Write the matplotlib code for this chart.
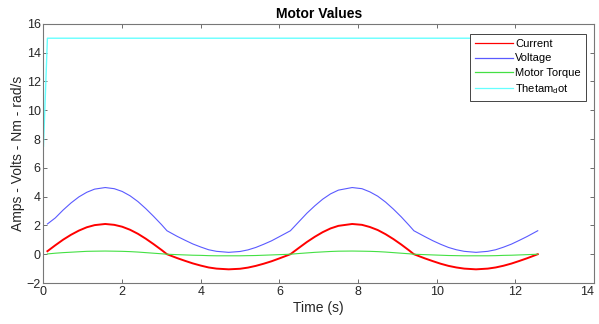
import matplotlib
matplotlib.use('Agg')
import matplotlib.pyplot as plt

plt.rcParams['font.family'] = ['Liberation Sans', 'DejaVu Sans']

# 时间 (s)
time = [0.1, 0.3, 0.5, 0.7, 0.9, 1.1, 1.3, 1.57, 1.8, 2.0, 2.2, 2.4, 2.6, 2.8, 3.0, 3.14,
        3.4, 3.6, 3.8, 4.0, 4.2, 4.4, 4.71, 5.0, 5.2, 5.4, 5.6, 5.8, 6.0, 6.28,
        6.5, 6.7, 6.9, 7.1, 7.3, 7.5, 7.85, 8.1, 8.3, 8.5, 8.7, 8.9, 9.1, 9.3, 9.42,
        9.7, 9.9, 10.1, 10.3, 10.5, 10.7, 11.0, 11.3, 11.5, 11.7, 11.9, 12.1, 12.3, 12.57]

current = [0.21, 0.62, 1.01, 1.35, 1.64, 1.87, 2.02, 2.10, 2.04, 1.91, 1.70, 1.42, 1.08, 0.70, 0.30, 0.0,
           -0.27, -0.46, -0.64, -0.79, -0.92, -1.00, -1.05, -1.01, -0.93, -0.81, -0.66, -0.49, -0.29, 0.0,
           0.45, 0.85, 1.21, 1.53, 1.79, 1.97, 2.10, 2.04, 1.89, 1.68, 1.39, 1.05, 0.67, 0.26, 0.0,
           -0.29, -0.48, -0.66, -0.81, -0.92, -1.00, -1.05, -1.00, -0.92, -0.80, -0.65, -0.47, -0.28, 0.0]

voltage = [2.10, 2.52, 3.07, 3.56, 3.98, 4.30, 4.52, 4.63, 4.55, 4.36, 4.06, 3.66, 3.17, 2.63, 2.06, 1.63,
           1.24, 0.97, 0.71, 0.50, 0.31, 0.20, 0.13, 0.19, 0.30, 0.47, 0.69, 0.93, 1.22, 1.63,
           2.27, 2.85, 3.36, 3.82, 4.19, 4.45, 4.63, 4.55, 4.33, 4.03, 3.62, 3.13, 2.59, 2.00, 1.63,
           1.22, 0.94, 0.69, 0.47, 0.31, 0.20, 0.13, 0.20, 0.31, 0.49, 0.70, 0.96, 1.23, 1.63]

torque = [0.02, 0.07, 0.11, 0.14, 0.17, 0.20, 0.21, 0.22, 0.21, 0.20, 0.18, 0.15, 0.11, 0.07, 0.03, 0.0,
          -0.03, -0.05, -0.07, -0.08, -0.10, -0.11, -0.11, -0.11, -0.10, -0.09, -0.07, -0.05, -0.03, 0.0,
          0.05, 0.09, 0.13, 0.16, 0.19, 0.21, 0.22, 0.21, 0.20, 0.18, 0.15, 0.11, 0.07, 0.03, 0.0,
          -0.03, -0.05, -0.07, -0.09, -0.10, -0.11, -0.11, -0.11, -0.10, -0.08, -0.07, -0.05, -0.03, 0.0]

theta_time = [0.0, 0.1, 12.57]
theta_dot = [7.5, 15.0, 15.0]

fig = plt.figure(figsize=(5.99, 3.24), dpi=100)
ax = fig.add_axes([0.0726, 0.1265, 0.919, 0.80])

ax.plot(time, current, color='#ff0000', lw=1.4, label='Current')
ax.plot(time, voltage, color='#5a5aff', lw=0.8, label='Voltage')
ax.plot(time, torque, color='#44e044', lw=0.8, label='Motor Torque')
ax.plot(theta_time, theta_dot, color='#66ffff', lw=1.0, label=r'Thetam$_{\mathregular{d}}$ot')

ax.set_xlim(0, 14)
ax.set_ylim(-2, 16)
ax.set_xticks(range(0, 15, 2))
ax.set_yticks(range(-2, 17, 2))

ax.set_title('Motor Values', fontsize=10, fontweight='bold', color='black', pad=4)
ax.set_xlabel('Time (s)', fontsize=10, color='#262626', labelpad=2)
ax.set_ylabel('Amps - Volts - Nm - rad/s', fontsize=10, color='#262626', labelpad=1)

ax.tick_params(direction='in', top=True, right=True, length=3, width=0.6,
               color='#555555', labelcolor='#262626', labelsize=9, pad=2)
ax.get_xticklabels()[-1].set_horizontalalignment('right')
for s in ax.spines.values():
    s.set_color('#777777')
    s.set_linewidth(0.8)

leg = ax.legend(loc='upper right', bbox_to_anchor=(586 / 599, 1 - 34 / 324),
                bbox_transform=fig.transFigure, borderaxespad=0,
                fontsize=8, frameon=True, fancybox=False,
                edgecolor='#262626', framealpha=1,
                handlelength=3.4, handletextpad=0.25, labelspacing=0.4, borderpad=0.45)
leg.get_frame().set_linewidth(0.6)
for line in leg.get_lines():
    line.set_linewidth(0.9)

fig.savefig('out.png', dpi=100)
